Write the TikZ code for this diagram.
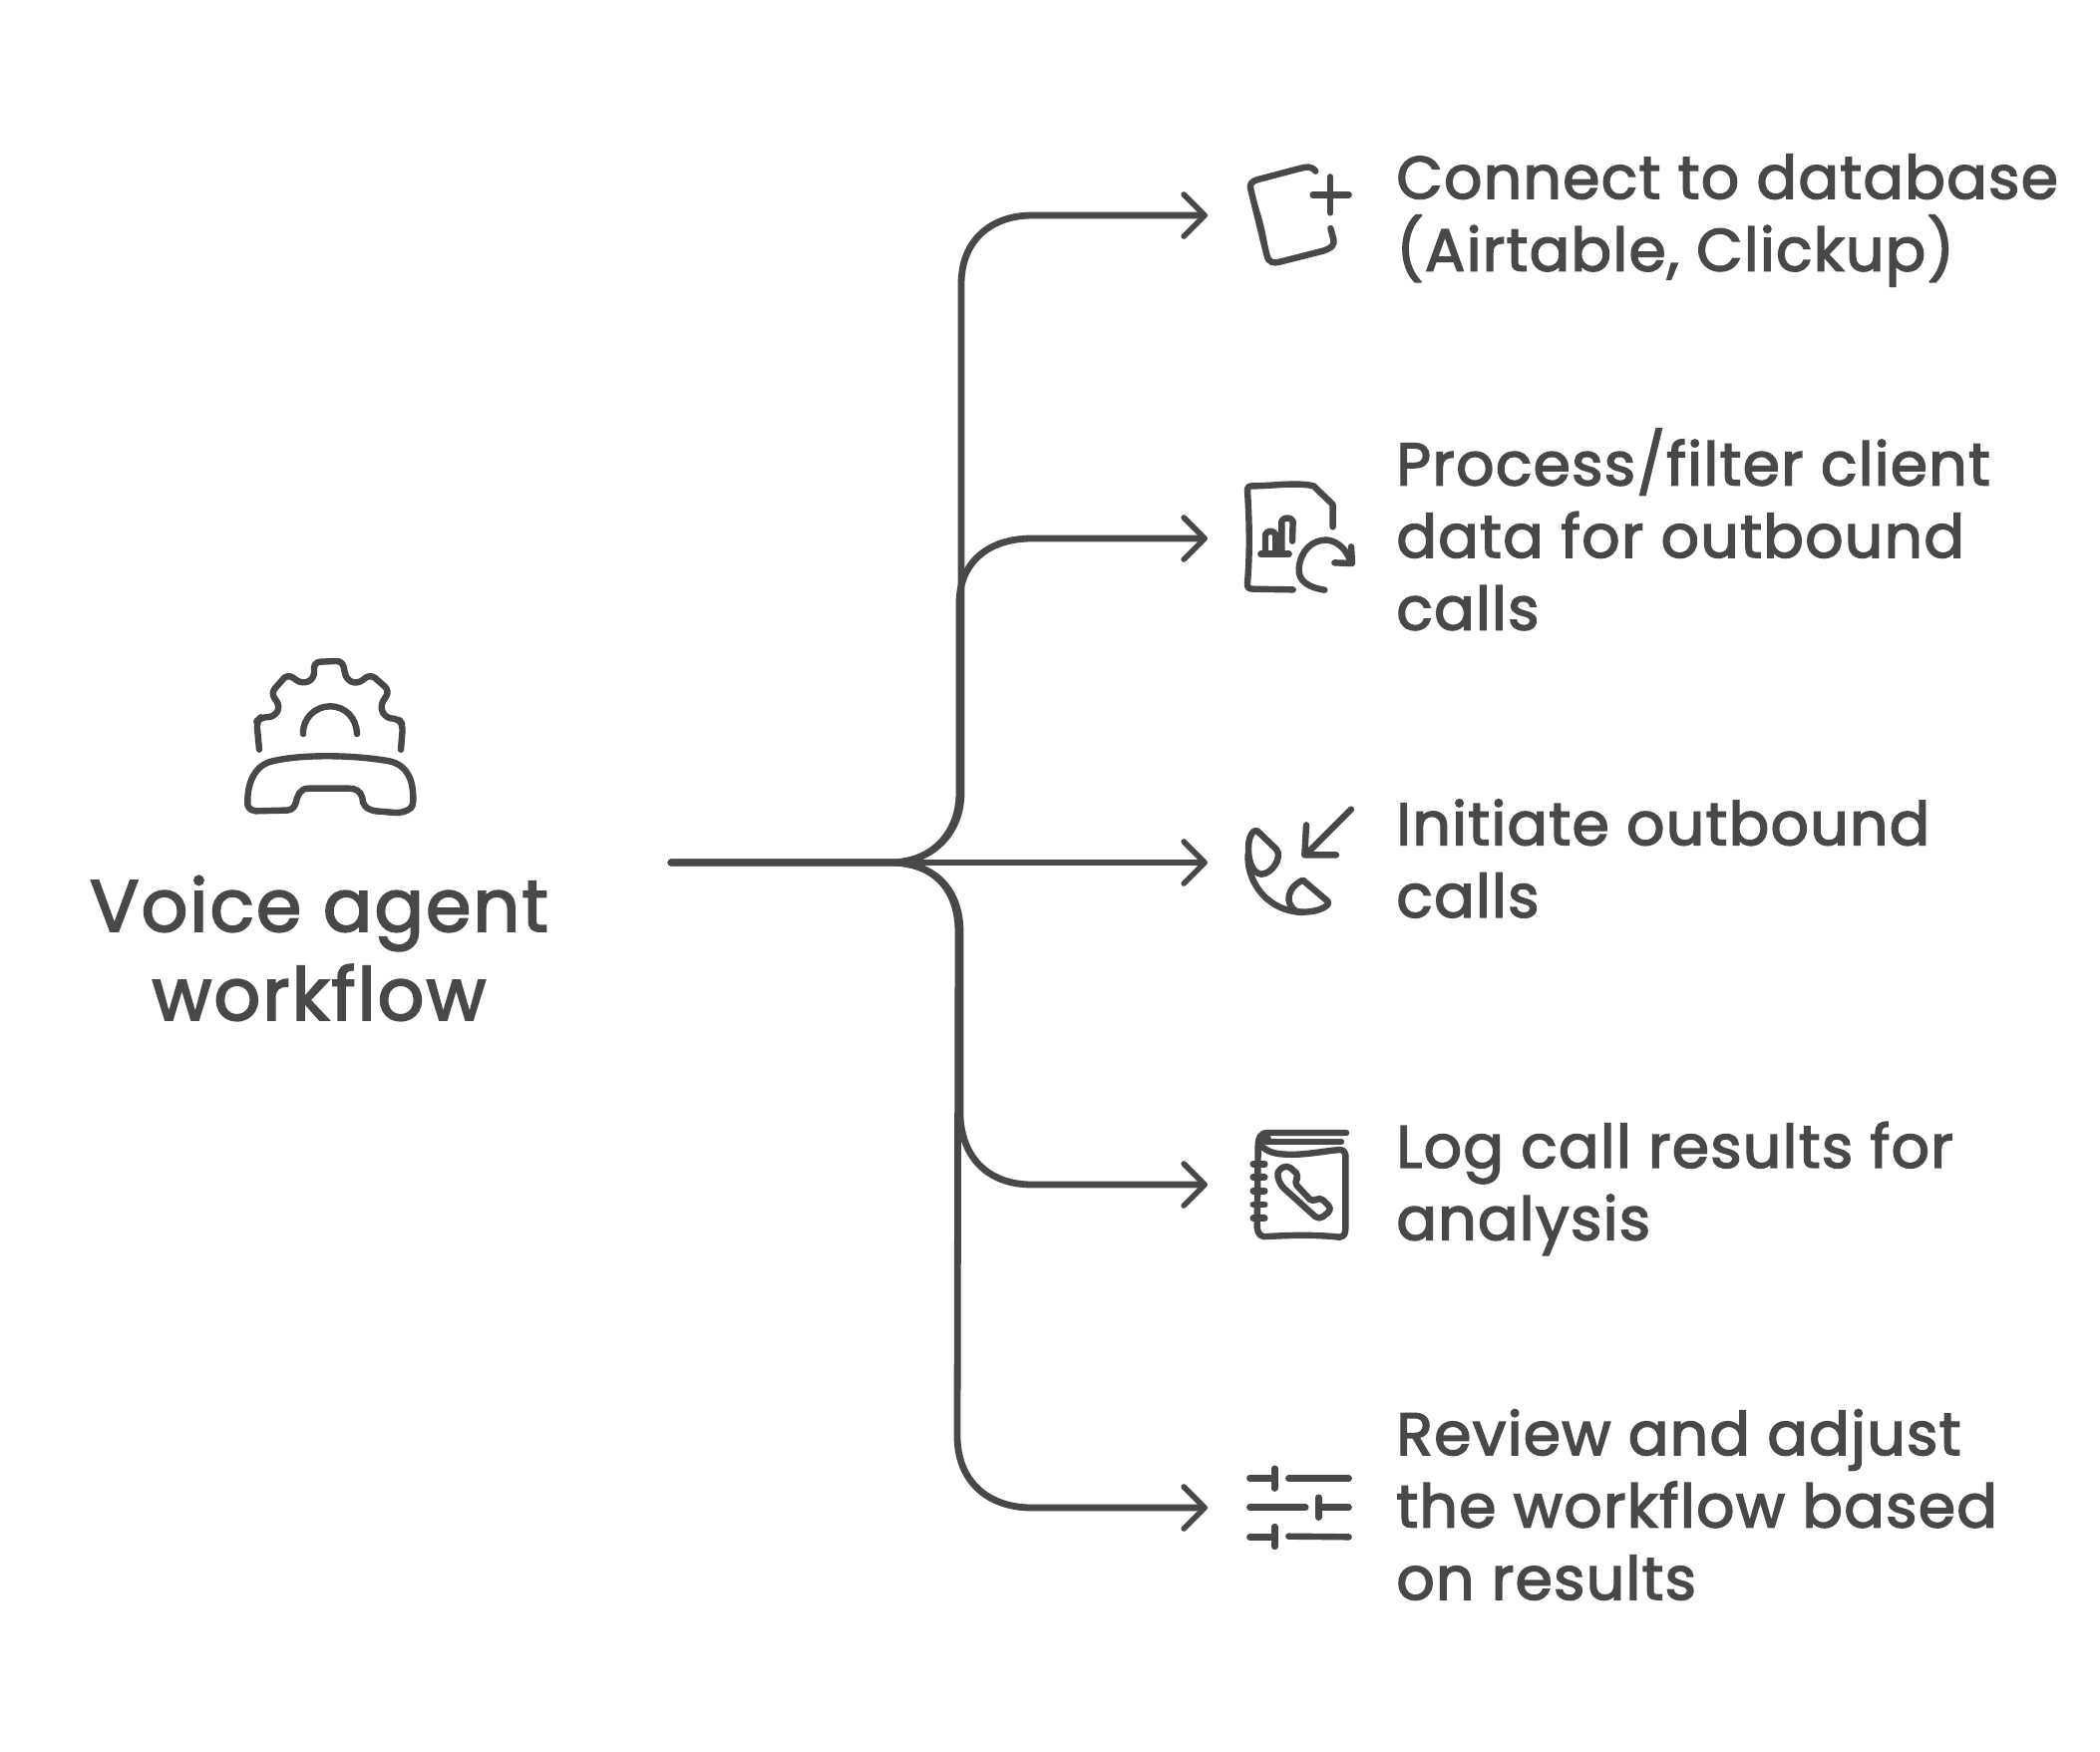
\documentclass[tikz,border=0pt]{standalone}
\usepackage{fontspec}
\usetikzlibrary{arrows.meta}
\newfontfamily\lblfont{Poppins}[LetterSpace=2.2,FakeBold=2.5]
\newfontfamily\ttlfont{Poppins}[LetterSpace=2.8,FakeBold=2.5]
\definecolor{ink}{HTML}{484848}
\tikzset{
  conn/.style={draw=ink,line width=3.4pt,line cap=round,line join=round,
    -{Straight Barb[round,length=10.5pt,width=21pt,line width=2.8pt]}},
  icon/.style={draw=ink,line width=3.2pt,line cap=round,line join=round},
  lbl/.style={anchor=west,inner sep=0pt,align=left,text=ink,font=\lblfont\fontsize{30pt}{36.25pt}\selectfont},
  ttl/.style={anchor=center,inner sep=0pt,align=center,text=ink,font=\ttlfont\fontsize{36.6pt}{44.5pt}\selectfont},
  zoomA/.style={shift={(1200,130)},x=0.16667pt,y=-0.16667pt},
  zoomB/.style={shift={(1200,780)},x=0.16667pt,y=-0.16667pt},
  zoomC/.style={shift={(1200,1400)},x=0.16667pt,y=-0.16667pt},
  zoomD/.style={shift={(200,640)},x=0.16667pt,y=-0.16667pt},
}
\begin{document}
\begin{tikzpicture}[x=0.5pt,y=-0.5pt]
\useasboundingbox (0,0) rectangle (2106,1757);
\fill[white] (0,0) rectangle (2106,1757);
% labels
\node[ttl] (title) at (320,951) {Voice agent\\workflow};
\node[lbl] (l1) at (1400,221) {Connect to database\\(Airtable, Clickup)};
\node[lbl] (l2) at (1400,531) {Process/filter client\\data for outbound\\calls};
\node[lbl] (l3) at (1400,861) {Initiate outbound\\calls};
\node[lbl] (l4) at (1400,1192) {Log call results for\\analysis};
\node[lbl] (l5) at (1400,1509) {Review and adjust\\the workflow based\\on results};
% connectors
\coordinate (src) at (673,865);
\coordinate (t1) at (1211,216);
\coordinate (t2) at (1211,540);
\coordinate (t3) at (1211,865);
\coordinate (t4) at (1211,1188);
\coordinate (t5) at (1211,1512);
\draw[conn] (src) -- (893,865) .. controls (935,865) and (964,835) .. (964,795)
  -- (964,285) .. controls (964,240) and (995,216) .. (1035,216) -- (t1);
\draw[conn] (src) -- (893,865) .. controls (935,865) and (962,835) .. (962,795)
  -- (962,605) .. controls (962,565) and (990,540) .. (1035,540) -- (t2);
\draw[conn] (src) -- (t3);
\draw[conn] (src) -- (893,865) .. controls (935,865) and (963,890) .. (963,935)
  -- (963,1120) .. controls (965,1160) and (990,1188) .. (1035,1188) -- (t4);
\draw[conn] (src) -- (893,865) .. controls (935,865) and (961,890) .. (961,935)
  -- (960,1440) .. controls (960,1485) and (990,1512) .. (1035,1512) -- (t5);
% central icon
\begin{scope}[zoomD]
  \draw[icon,rounded corners=3pt] (180,335) -- (172,250) -- (185,238) -- (225,237) -- (243,205) -- (215,165) -- (265,108) -- (310,138) -- (345,122) -- (345,72) -- (430,68) -- (442,125) -- (475,138) -- (515,108) -- (572,158) -- (543,205) -- (560,240) -- (600,243) -- (612,262) -- (606,335);
  \draw[icon] (312,288) .. controls (310,240) and (350,205) .. (392,205) .. controls (440,205) and (472,240) .. (474,288);
  \draw[icon] (145,490) .. controls (145,430) and (170,380) .. (220,370) .. controls (300,350) and (450,350) .. (560,368)
    .. controls (620,375) and (645,420) .. (643,490) .. controls (645,510) and (625,525) .. (590,525)
    -- (530,520) .. controls (500,515) and (490,500) .. (490,480) .. controls (485,460) and (470,452) .. (450,452)
    -- (330,452) .. controls (300,452) and (295,475) .. (290,495) .. controls (285,515) and (270,520) .. (250,518)
    -- (170,520) .. controls (150,518) and (142,505) .. (145,490) -- cycle;
\end{scope}
% icon 1
\begin{scope}[zoomA]
  \draw[icon] (358,125) .. controls (345,108) and (330,112) .. (310,117) -- (185,150) .. controls (165,155) and (158,165) .. (163,180)
    -- (212,380) .. controls (218,400) and (230,403) .. (250,398) -- (380,365) .. controls (410,355) and (415,345) .. (412,330) -- (403,297);
  \fill[ink] (165,175) .. controls (190,240) and (210,300) .. (218,385) -- (205,375) .. controls (190,300) and (170,240) .. (160,180) -- cycle;
  \draw[icon] (350,196) -- (458,196);
  \draw[icon] (402,142) -- (402,250);
% icon 2
  \draw[icon] (290,1384) -- (170,1382) .. controls (155,1382) and (152,1375) .. (153,1365) .. controls (160,1280) and (160,1200) .. (153,1085) .. controls (153,1075) and (158,1072) .. (170,1072) .. controls (230,1072) and (300,1060) .. (352,1072) -- (410,1128) -- (410,1195);
  \draw[icon] (193,1277) -- (278,1277);
  \draw[icon] (207,1272) -- (207,1218) .. controls (212,1205) and (232,1205) .. (238,1218) -- (238,1272);
  \draw[icon] (256,1272) -- (256,1178) .. controls (260,1165) and (285,1165) .. (290,1178) -- (288,1238);
  \draw[icon] (385,1385) .. controls (340,1378) and (305,1360) .. (308,1320) .. controls (312,1270) and (345,1232) .. (395,1235) .. controls (430,1240) and (455,1270) .. (465,1305);
  \draw[icon] (415,1303) -- (468,1305) -- (465,1255);
\end{scope}
% icon 3
\begin{scope}[zoomB]
  \draw[icon] (465,95) -- (330,230);
  \draw[icon] (330,142) -- (325,232) -- (420,232);
  \draw[icon] (155,230) .. controls (150,300) and (200,400) .. (320,405);
  \draw[icon] (183,160) -- (240,215) .. controls (260,240) and (225,290) .. (195,290) .. controls (150,285) and (150,190) .. (165,170) .. controls (170,160) and (178,157) .. (183,160) -- cycle;
  \draw[icon] (320,308) -- (395,372) .. controls (405,390) and (345,410) .. (300,402) .. controls (265,380) and (270,330) .. (320,308) -- cycle;
% icon 4
  \draw[icon] (450,1068) -- (215,1068) .. controls (190,1068) and (185,1085) .. (185,1110) -- (182,1350) .. controls (185,1378) and (195,1382) .. (215,1380) .. controls (290,1375) and (370,1375) .. (430,1382) .. controls (445,1380) and (448,1372) .. (448,1350) -- (448,1135) .. controls (445,1118) and (435,1118) .. (420,1120) .. controls (370,1125) and (300,1140) .. (240,1130) .. controls (190,1120) and (180,1090) .. (215,1085);
  \draw[icon] (210,1095) -- (435,1095);
  \foreach \ry in {1162,1202,1243,1284,1325} { \draw[icon] (170,\ry) -- (205,\ry); }
  \draw[icon,rounded corners=2.5pt] (272,1164) -- (310,1198) -- (292,1216) -- (350,1278) -- (370,1260) -- (408,1298) -- (368,1330) -- (252,1225) -- (240,1185) -- cycle;
\end{scope}
% icon 5
\begin{scope}[zoomC]
  \draw[icon] (160,247) -- (235,247);
  \draw[icon] (235,218) -- (235,278);
  \draw[icon] (277,248) -- (458,248);
  \draw[icon] (160,335) -- (328,335);
  \draw[icon] (367,305) -- (367,365);
  \draw[icon] (367,335) -- (458,335);
  \draw[icon] (160,424) -- (235,424);
  \draw[icon] (235,393) -- (235,453);
  \draw[icon] (277,422) -- (458,424);
\end{scope}
\end{tikzpicture}
\end{document}
